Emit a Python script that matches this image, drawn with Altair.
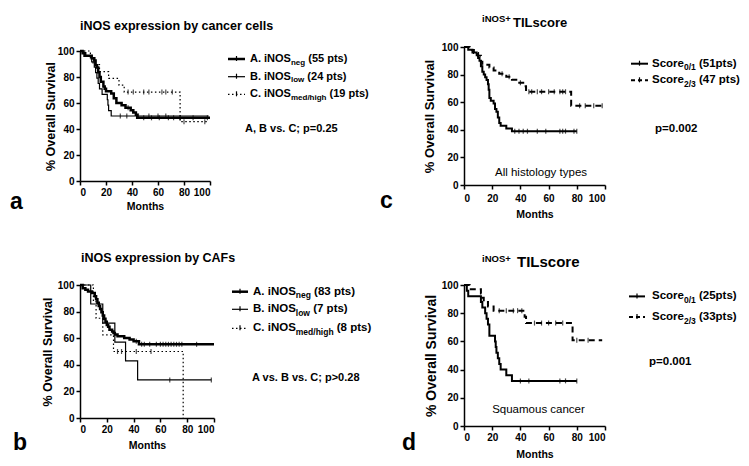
import altair as alt
import pandas as pd

FONT = "Liberation Sans"

# ---------------- data ----------------
# panel a : iNOS expression by cancer cells
a_neg_t = [0, 2, 4, 9, 11, 12, 13, 14, 15, 16, 18, 19, 20, 24, 26, 28, 32, 35, 39, 41, 43, 44]
a_neg_s = [100, 98.2, 96.4, 94.5, 92.7, 89.1, 87.3, 83.6, 80.0, 76.4, 72.7, 70.9, 69.1, 67.3, 63.6, 60.0, 58.2, 56.4, 54.5, 52.7, 50.9, 48.6]
a_neg_end = 100
a_neg_cens = [37, 49, 55, 61, 68, 72, 77, 87, 98]

a_low_t = [0, 3, 9, 11, 12, 13, 14, 15, 17, 21, 21.5, 22, 24]
a_low_s = [100, 95.8, 91.7, 87.5, 83.3, 79.2, 75.0, 70.8, 66.7, 62.5, 58.3, 54.2, 50.0]
a_low_end = 99
a_low_cens = [31, 36, 45, 53, 60, 66]

a_med_t = [0, 8, 10, 15, 22, 30, 34, 77]
a_med_s = [100, 94.7, 89.5, 84.2, 78.9, 73.7, 68.4, 45.6]
a_med_end = 98
a_med_cens = [37, 41, 49, 53, 63, 66, 71, 80, 96]

# panel b : iNOS expression by CAFs
b_neg_t = [0, 2, 4, 6, 9, 11, 12, 13, 14, 15, 16, 17, 18, 19, 20, 21, 22, 24, 25, 26, 28, 33, 37, 40, 44]
b_neg_s = [100, 97.6, 96.4, 95.2, 94.0, 91.6, 89.2, 86.7, 84.3, 81.9, 79.5, 77.1, 74.7, 72.3, 69.9, 68.7, 66.3, 65.1, 63.9, 62.7, 61.4, 60.2, 59.0, 57.8, 55.4]
b_neg_end = 100
b_neg_cens = [42, 46, 48, 52, 57, 60, 62, 64, 66, 68, 70, 72, 74, 76, 87]

b_low_t = [0, 8, 17, 26, 34, 43]
b_low_s = [100, 85.7, 71.4, 57.1, 42.9, 28.6]
b_low_end = 98
b_low_cens = [67, 98]

b_med_t = [0, 10, 12, 17, 25, 77]
b_med_s = [100, 87.5, 75.0, 62.5, 50.0, 0]
b_med_end = 77
b_med_cens = [28, 31, 42, 53]

# panel c : iNOS+ TILscore, all histology types
c_lo_t = [0, 3, 6, 9, 10, 11, 12, 13, 14, 15, 16, 17, 17.5, 18, 19, 21, 22, 23, 24, 25, 26, 30, 34]
c_lo_s = [100, 98, 96, 94, 92, 90, 86, 82, 80, 78, 76, 73, 69, 63, 61, 59, 55, 53, 49, 45, 43, 41, 39]
c_lo_end = 80
c_lo_cens = [36, 39, 42, 45, 52, 58, 68, 70, 72, 78, 80]

c_hi_t = [0, 4, 7, 10, 12, 13, 18, 21, 25, 30, 34, 38, 42, 44, 76]
c_hi_s = [100, 97.9, 95.7, 93.6, 89.4, 87.2, 85.1, 82.9, 80.7, 78.5, 76.3, 74.1, 71.5, 67.6, 57.5]
c_hi_end = 100
c_hi_cens = [27, 32, 40, 46, 48, 52, 55, 60, 64, 68, 70, 72, 82, 86, 92, 98]

# panel d : iNOS+ TILscore, squamous cancer
d_lo_t = [0, 2, 3, 12, 13, 15, 16, 17, 18, 22, 22.5, 23, 24, 25, 26, 30, 34]
d_lo_s = [100, 96, 92, 88, 84, 80, 76, 72, 64, 60, 56, 52, 48, 44, 40, 36, 32]
d_lo_end = 80
d_lo_cens = [40, 46, 68, 72, 80]

d_hi_t = [0, 4, 12, 13, 14, 17, 21, 43, 44, 77]
d_hi_s = [100, 97.0, 93.9, 90.9, 87.9, 84.8, 81.8, 77.5, 73.0, 60.8]
d_hi_end = 98
d_hi_cens = [25, 30, 35, 38, 41, 50, 55, 60, 65, 70, 80, 88]

axis_ticks = [0, 20, 40, 60, 80, 100]

a_legend = [("A. iNOS", "neg", "(55 pts)"), ("B. iNOS", "low", "(24 pts)"), ("C. iNOS", "med/high", "(19 pts)")]
b_legend = [("A. iNOS", "neg", "(83 pts)"), ("B. iNOS", "low", "(7 pts)"), ("C. iNOS", "med/high", "(8 pts)")]
c_legend = [("Score", "0/1", "(51pts)"), ("Score", "2/3", "(47 pts)")]
d_legend = [("Score", "0/1", "(25pts)"), ("Score", "2/3", "(33pts)")]

# ---------------- helpers ----------------
BOLD_W = {' ': 278, '(': 333, ')': 333, '.': 278, '/': 278, ',': 278, ';': 333, '=': 584, '>': 584,
          '+': 584, '%': 889, 'A': 722, 'B': 722, 'C': 722, 'I': 278, 'L': 611, 'N': 722, 'O': 778,
          'S': 667, 'T': 611, 'F': 611, 'M': 833, 'a': 556, 'b': 611, 'c': 556, 'd': 611, 'e': 556,
          'g': 611, 'h': 611, 'i': 278, 'l': 278, 'm': 889, 'n': 611, 'o': 611, 'p': 611, 'r': 389,
          's': 556, 't': 333, 'u': 611, 'v': 556, 'w': 778, 'x': 556, 'y': 556}


def tw(s, size):
    return sum(BOLD_W.get(ch, 556) for ch in s) * size / 1000.0


one = pd.DataFrame({"k": [0]})


def surv_at(x, times, surv):
    v = surv[0]
    for tt, ss in zip(times, surv):
        if tt <= x:
            v = ss
    return v


def txt(s, x, y, size, bold=True, align="left", baseline="middle"):
    return alt.Chart(pd.DataFrame({"v": [s]})).mark_text(
        align=align, baseline=baseline, font=FONT, fontSize=size,
        fontWeight="bold" if bold else "normal", color="black"
    ).encode(x=alt.value(x), y=alt.value(y), text="v:N")


def rich(parts, x, y, size, subsize):
    main, sub, tail = parts
    out = [txt(main, x, y, size)]
    x1 = x + tw(main, size)
    out.append(txt(sub, x1, y + 3.5, subsize))
    x2 = x1 + tw(sub, subsize) + tw(" ", size)
    out.append(txt(tail, x2, y, size))
    return out


def symbol(x1, x2, y, width, dash=None):
    kw = dict(color="black", strokeWidth=width)
    if dash:
        kw["strokeDash"] = dash
    seg = alt.Chart(one).mark_rule(**kw).encode(x=alt.value(x1), x2=alt.value(x2), y=alt.value(y))
    mid = (x1 + x2) / 2
    tick = alt.Chart(one).mark_rule(color="black", strokeWidth=1.2).encode(
        x=alt.value(mid), y=alt.value(y - 3), y2=alt.value(y + 2))
    return [seg, tick]


def km_panel(w, h, curves, extra, ytitle_x, ytitle_size, xtitle_y, xlabel_pad):
    xs = alt.Scale(domain=[0, 100], nice=False, zero=False)
    ys = alt.Scale(domain=[0, 100], nice=False)
    common = dict(values=axis_ticks, grid=False, domainColor="black", domainWidth=1.5,
                  tickColor="black", tickWidth=1.5, tickSize=4, labelFont=FONT,
                  labelFontWeight="bold", labelFontSize=10, labelColor="black",
                  titleFont=FONT, titleFontWeight="bold", titleColor="black")
    xaxis = alt.Axis(title="Months", labelPadding=xlabel_pad, titleFontSize=10.5,
                     titleX=w / 2, titleY=xtitle_y, titleBaseline="middle", titleAlign="center",
                     **common)
    yaxis = alt.Axis(title="% Overall Survival", labelPadding=2, titleFontSize=ytitle_size,
                     titleX=ytitle_x, titleY=h / 2, titleBaseline="middle", titleAlign="center",
                     titleAngle=270, **common)
    X = alt.X("t:Q", scale=xs, axis=xaxis)
    Y = alt.Y("s:Q", scale=ys, axis=yaxis)
    layers = []
    for times, surv, end, cens, width, dash in curves:
        df = pd.DataFrame({"t": list(times) + [end], "s": list(surv) + [surv[-1]]})
        kw = dict(interpolate="step-after", color="black", strokeWidth=width)
        if dash:
            kw["strokeDash"] = dash
        layers.append(alt.Chart(df).mark_line(**kw).encode(x=X, y=Y))
        cdf = pd.DataFrame({"t": cens, "s": [surv_at(c, times, surv) for c in cens]})
        layers.append(alt.Chart(cdf).mark_tick(orient="vertical", size=5, thickness=1.2,
                                               color="black").encode(x=X, y=Y))
    layers += extra
    return alt.layer(*layers).properties(width=w, height=h)


DOT = [1.5, 2.5]
DASH = [6, 4]

# ---------------- panel a ----------------
a_extra = [txt("iNOS expression by cancer cells", 0, -20.7, 12.5, baseline="alphabetic"),
           txt("a", -70, 158, 23, baseline="alphabetic"),
           txt("A, B vs. C; p=0.25", 165, 78, 11)]
a_styles = [(2.5, None), (1.2, None), (1.2, DOT)]
for i, (yy, parts) in enumerate(zip([8, 25.7, 43.3], a_legend)):
    a_extra += symbol(148, 165, yy, a_styles[i][0], a_styles[i][1])
    a_extra += rich(parts, 170, yy, 11, 8)
panel_a = km_panel(130, 130, [
    (a_neg_t, a_neg_s, a_neg_end, a_neg_cens, 2.5, None),
    (a_low_t, a_low_s, a_low_end, a_low_cens, 1.2, None),
    (a_med_t, a_med_s, a_med_end, a_med_cens, 1.2, DOT)],
    a_extra, -30, 12.5, 25.3, 2)

# ---------------- panel b ----------------
b_extra = [txt("iNOS expression by CAFs", 1, -23.3, 12.5, baseline="alphabetic"),
           txt("b", -67, 165, 23, baseline="alphabetic"),
           txt("A vs. B vs. C; p>0.28", 172, 93.3, 11)]
for i, (yy, parts) in enumerate(zip([6.7, 24.3, 43.3], b_legend)):
    b_extra += symbol(152, 168, yy, a_styles[i][0], a_styles[i][1])
    b_extra += rich(parts, 173, yy, 11.5, 8.5)
panel_b = km_panel(134, 133, [
    (b_neg_t, b_neg_s, b_neg_end, b_neg_cens, 2.5, None),
    (b_low_t, b_low_s, b_low_end, b_low_cens, 1.2, None),
    (b_med_t, b_med_s, b_med_end, b_med_cens, 1.2, DOT)],
    b_extra, -33, 12.5, 27.3, 2)

# ---------------- panel c ----------------
c_styles = [(2, None), (2, DASH)]
c_extra = [txt("iNOS+", 18, -25.3, 9.5, baseline="alphabetic"),
           txt("TILscore", 49, -19.7, 13, baseline="alphabetic"),
           txt("c", -84, 161, 23, baseline="alphabetic"),
           txt("p=0.002", 191, 81.7, 11.5),
           txt("All histology types", 77, 125.7, 11.5, bold=False, align="center")]
for i, (yy, parts) in enumerate(zip([16.7, 33.3], c_legend)):
    c_extra += symbol(167, 184, yy, c_styles[i][0], [4, 3] if c_styles[i][1] else None)
    c_extra += rich(parts, 188, yy, 11.5, 8.5)
panel_c = km_panel(141, 138, [
    (c_lo_t, c_lo_s, c_lo_end, c_lo_cens, 2, None),
    (c_hi_t, c_hi_s, c_hi_end, c_hi_cens, 2, DASH)],
    c_extra, -35, 13, 29, 4)

# ---------------- panel d ----------------
d_extra = [txt("iNOS+", 18, -23, 9.5, baseline="alphabetic"),
           txt("TILscore", 53, -18, 15, baseline="alphabetic"),
           txt("d", -62, 165.4, 23, baseline="alphabetic"),
           txt("p=0.001", 185, 77, 11.5),
           txt("Squamous cancer", 74.5, 125.4, 11.5, bold=False, align="center")]
for i, (yy, parts) in enumerate(zip([11.4, 32], d_legend)):
    d_extra += symbol(165, 181, yy, c_styles[i][0], [4, 3] if c_styles[i][1] else None)
    d_extra += rich(parts, 188, yy, 11.5, 8.5)
panel_d = km_panel(141, 141, [
    (d_lo_t, d_lo_s, d_lo_end, d_lo_cens, 2, None),
    (d_hi_t, d_hi_s, d_hi_end, d_hi_cens, 2, DASH)],
    d_extra, -33, 14, 28.7, 2)

chart = alt.concat(
    panel_a, panel_c, panel_b, panel_d, columns=2,
    spacing={"row": 100, "column": 250}, bounds="flush", align="each",
    center={"row": True, "column": False}
).configure_view(stroke=None).properties(
    padding={"left": 2, "top": 5, "right": 0, "bottom": 0}
)

chart.save("out.html", embed_options={"renderer": "svg", "actions": False})
